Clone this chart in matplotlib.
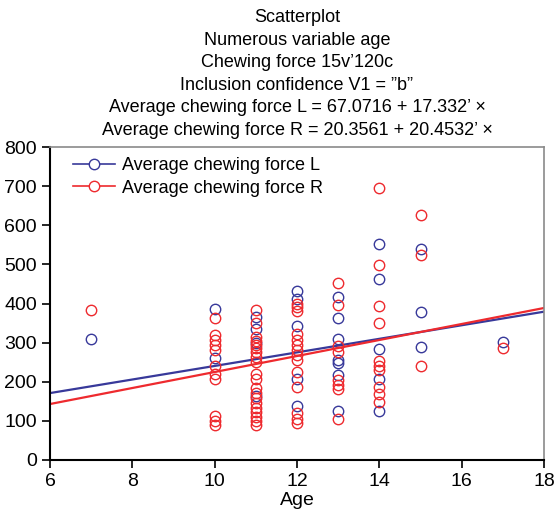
import numpy as np
import matplotlib
matplotlib.use("Agg")
from matplotlib import pyplot as plt

plt.rcParams['font.family'] = ['Liberation Sans Narrow', 'Liberation Sans', 'DejaVu Sans']

# values
age_L = [7, 10, 10, 11, 11, 11, 11,
         12, 12, 12, 12, 12,
         13, 13, 13, 13, 13, 13, 13,
         14, 14, 14, 14, 14,
         15, 15, 15, 17]
force_L = [309, 385, 261, 365, 336, 164, 300,
           432, 411, 343, 208, 139,
           417, 362, 309, 256, 247, 216, 126,
           553, 462, 283, 207, 126,
           539, 377, 288, 301]

age_R = [7] + [10] * 11 + [11] * 20 + [12] * 14 + [13] * 8 + [14] * 10 + [15] * 3 + [17]
force_R = [384,
           362, 319, 306, 294, 281, 220, 208, 112, 100, 90, 240,
           384, 350, 315, 305, 295, 285, 275, 262, 251, 219, 208, 183, 170, 158, 146, 134, 122, 110, 99, 89,
           400, 392, 381, 321, 307, 294, 281, 268, 256, 224, 187, 119, 106, 94,
           452, 395, 292, 277, 204, 192, 181, 104,
           696, 499, 394, 349, 253, 241, 230, 187, 169, 149,
           626, 523, 241,
           286]

# fitted lines from the title
coef_L = (67.0716, 17.332)
coef_R = (20.3561, 20.4532)

blue = '#38399a'
red = '#ee2a2e'

fig = plt.figure(figsize=(5.54, 5.14), dpi=100)
ax = fig.add_axes([50 / 554, 1 - 460 / 514, 494 / 554, 313 / 514])

xx = np.array([6, 18])
ax.plot(xx, coef_L[0] + coef_L[1] * xx, color=blue, lw=1.6)
ax.plot(xx, coef_R[0] + coef_R[1] * xx, color=red, lw=1.6)
ax.plot(age_L, force_L, 'o', mfc='none', mec=blue, ms=7.5, mew=1.0)
ax.plot(age_R, force_R, 'o', mfc='none', mec=red, ms=7.5, mew=1.0)

# legend handles
ax.plot([], [], '-o', color=blue, mfc='white', mec=blue, ms=7.5, lw=1.2, label='Average chewing force L')
ax.plot([], [], '-o', color=red, mfc='white', mec=red, ms=7.5, lw=1.2, label='Average chewing force R')
h, l = ax.get_legend_handles_labels()
ax.legend(h[-2:], l[-2:], loc='upper left', frameon=False, fontsize=13,
          handlelength=2.3, handletextpad=0.4, labelspacing=0.3,
          borderaxespad=0, bbox_to_anchor=(0.032, 0.99))

ax.set_xlim(6, 18)
ax.set_ylim(0, 800)
ax.set_xticks(np.arange(6, 19, 2))
ax.set_yticks(np.arange(0, 801, 100))
ax.tick_params(labelsize=14, length=6, width=1.2, direction='out')
ax.set_xlabel('Age', fontsize=14, labelpad=1)

for s in ['left', 'bottom']:
    ax.spines[s].set_linewidth(1.5)
    ax.spines[s].set_color('black')
for s in ['top', 'right']:
    ax.spines[s].set_color('#8a8a8a')
    ax.spines[s].set_linewidth(1.2)

title = ['Scatterplot',
         'Numerous variable age',
         'Chewing force 15v\u2019120c',
         'Inclusion confidence V1 = \u201db\u201d',
         'Average chewing force L = 67.0716 + 17.332\u2019 \u00d7',
         'Average chewing force R = 20.3561 + 20.4532\u2019 \u00d7']
for i, t in enumerate(title):
    fig.text(297 / 554, 1 - (17.5 + i * 22.6) / 514, t, ha='center', va='center', fontsize=13)

fig.savefig('out.png', dpi=100)
